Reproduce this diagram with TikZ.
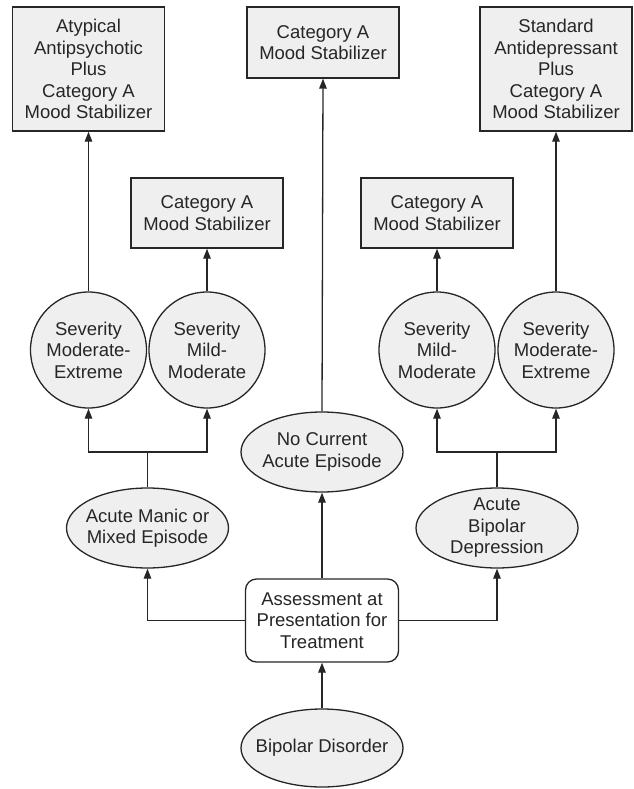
\documentclass[tikz,border=0pt]{standalone}
\usepackage{fontspec}
\setmainfont{Liberation Sans}
\usetikzlibrary{shapes.geometric,arrows.meta}
\definecolor{boxfill}{HTML}{EFEFEF}
\definecolor{ink}{HTML}{262626}
\begin{document}
\begin{tikzpicture}[x=1pt,y=-1pt,
  lbl/.style={align=center,inner sep=0pt,text=ink,font=\fontsize{18.5}{21.5}\selectfont},
  sqbox/.style={draw=ink,fill=boxfill,line width=1.3pt,minimum width=152pt,inner sep=0pt},
  rbox/.style={draw=ink,fill=white,line width=1.3pt,rounded corners=11pt,minimum width=153pt,minimum height=83pt,inner sep=0pt},
  ell/.style={draw=ink,fill=boxfill,line width=1.3pt,ellipse,minimum width=162pt,minimum height=80pt,inner sep=0pt},
  circ/.style={draw=ink,fill=boxfill,line width=1.3pt,circle,minimum size=116pt,inner sep=0pt},
  conn/.style={draw=ink,line width=1.3pt,-{Triangle[length=10pt,width=7.5pt]}},
  seg/.style={draw=ink,line width=1.3pt}]
\useasboundingbox (0,0) rectangle (633,789);

% top boxes
\node[sqbox,minimum height=124pt,label={[lbl]center:Atypical\\Antipsychotic\\Plus\\Category A\\Mood Stabilizer}] (tl) at (88.5,69) {};
\node[sqbox,minimum height=71pt,label={[lbl]center:Category A\\Mood Stabilizer}] (tm) at (323,42.5) {};
\node[sqbox,minimum height=124pt,label={[lbl]center:Standard\\Antidepressant\\Plus\\Category A\\Mood Stabilizer}] (tr) at (556,69) {};

% second level boxes
\node[sqbox,minimum height=70pt,label={[lbl]center:Category A\\Mood Stabilizer}] (ml) at (207,213) {};
\node[sqbox,minimum height=70pt,label={[lbl]center:Category A\\Mood Stabilizer}] (mr) at (437,213) {};

% circles
\node[circ,label={[lbl]center:Severity\\Moderate-\\Extreme}] (c1) at (88.5,350) {};
\node[circ,label={[lbl]center:Severity\\Mild-\\Moderate}] (c2) at (207,350) {};
\node[circ,label={[lbl]center:Severity\\Mild-\\Moderate}] (c3) at (437,350) {};
\node[circ,label={[lbl]center:Severity\\Moderate-\\Extreme}] (c4) at (556,350) {};

% ellipses
\node[ell,label={[lbl]center:Acute Manic or\\Mixed Episode}] (am) at (147.5,528) {};
\node[ell,label={[lbl]center:No Current\\Acute Episode}] (nc) at (322,452) {};
\node[ell,label={[lbl]center:Acute\\Bipolar\\Depression}] (ad) at (497,528) {};
\node[ell,minimum height=78pt,label={[lbl]center:Bipolar Disorder}] (bd) at (322,748) {};

% assessment
\node[rbox,label={[lbl]center:Assessment at\\Presentation for\\Treatment}] (as) at (322,620.5) {};

% bracket junctions
\coordinate (jl) at (147.5,452);
\coordinate (jr) at (497,452);

% connectors
\draw[conn] (bd.north) -- (as.south);
\draw[conn] (as.north) -- (nc.south);
\draw[conn] (nc.north) -- (tm.south);
\draw[conn] (as.west) -| (am.south);
\draw[conn] (as.east) -| (ad.south);
\draw[seg] (am.north) -- (jl);
\draw[seg] (ad.north) -- (jr);
\draw[conn] (jl) -| (c1.south);
\draw[conn] (jl) -| (c2.south);
\draw[conn] (jr) -| (c3.south);
\draw[conn] (jr) -| (c4.south);
\draw[conn] (c1.north) -- (tl.south);
\draw[conn] (c2.north) -- (ml.south);
\draw[conn] (c3.north) -- (mr.south);
\draw[conn] (c4.north) -- (tr.south);
\end{tikzpicture}
\end{document}
